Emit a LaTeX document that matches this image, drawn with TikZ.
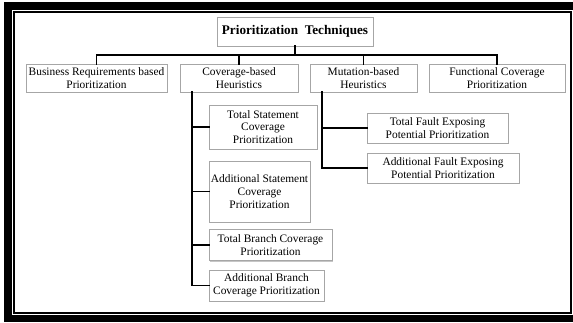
\documentclass[tikz,border=0pt]{standalone}
\usepackage{fontspec}
\setmainfont{Liberation Serif}
\usetikzlibrary{shadows,calc}
\begin{document}
\begin{tikzpicture}[x=1pt,y=-1pt,
  box/.style={draw=gray!70, line width=0.6pt, fill=white, align=center, inner sep=0.5pt,
    font=\fontsize{11.4}{12.8}\selectfont,
    drop shadow={shadow xshift=1.2pt, shadow yshift=-1.2pt, fill=gray!45, opacity=1}},
  conn/.style={line width=1.8pt, line cap=rect}]
\useasboundingbox (0,0) rectangle (573,322);
% frame
\fill[black] (4,2) rectangle (12,322);
\fill[black] (4,2) rectangle (573,10);
\fill[black] (4,315) rectangle (573,322);
\draw[line width=2pt] (14,12) rectangle (571,313);
% nodes
\node[box, minimum width=156pt, minimum height=29pt, font=\fontsize{13.2}{15}\selectfont\bfseries] (root) at (295,31.5) {Prioritization\ \ Techniques};
\node[box, minimum width=141pt, minimum height=28pt] (bus) at (96.5,78) {Business Requirements based\\Prioritization};
\node[box, minimum width=118pt, minimum height=28pt] (cov) at (239,78) {Coverage-based\\Heuristics};
\node[box, minimum width=107pt, minimum height=28pt] (mut) at (363.5,78) {Mutation-based\\Heuristics};
\node[box, minimum width=136pt, minimum height=28pt] (fun) at (497,78) {Functional Coverage\\Prioritization};
\node[box, minimum width=108pt, minimum height=44pt] (ts) at (263,127) {Total Statement\\Coverage\\Prioritization};
\node[box, minimum width=101pt, minimum height=61pt] (as) at (259.5,191.5) {Additional Statement\\Coverage\\Prioritization};
\node[box, minimum width=123pt, minimum height=31pt] (tb) at (270.5,245) {Total Branch Coverage\\Prioritization};
\node[box, minimum width=115pt, minimum height=31pt] (ab) at (266.5,285.5) {Additional Branch\\Coverage Prioritization};
\node[box, minimum width=141pt, minimum height=30pt] (tf) at (437.5,128) {Total Fault Exposing\\Potential Prioritization};
\node[box, minimum width=152pt, minimum height=30pt] (af) at (443,168) {Additional Fault Exposing\\Potential Prioritization};
% connectors
\coordinate (bar) at (0,55);
\draw[conn] (root.south) -- (root.south |- bar);
\draw[conn] (bus.north) -- (bus.north |- bar) -- (fun.north |- bar) -- (fun.north);
\draw[conn] (cov.north) -- (cov.north |- bar);
\draw[conn] (mut.north) -- (mut.north |- bar);
\coordinate (ct) at ($(cov.south west)+(12,0)$);
\draw[conn] (ct) |- (ab.west);
\draw[conn] (ct |- ts.west) -- (ts.west);
\draw[conn] (ct |- as.west) -- (as.west);
\draw[conn] (ct |- tb.west) -- (tb.west);
\coordinate (mt) at ($(mut.south west)+(12,0)$);
\draw[conn] (mt) |- (af.west);
\draw[conn] (mt |- tf.west) -- (tf.west);
\end{tikzpicture}
\end{document}
